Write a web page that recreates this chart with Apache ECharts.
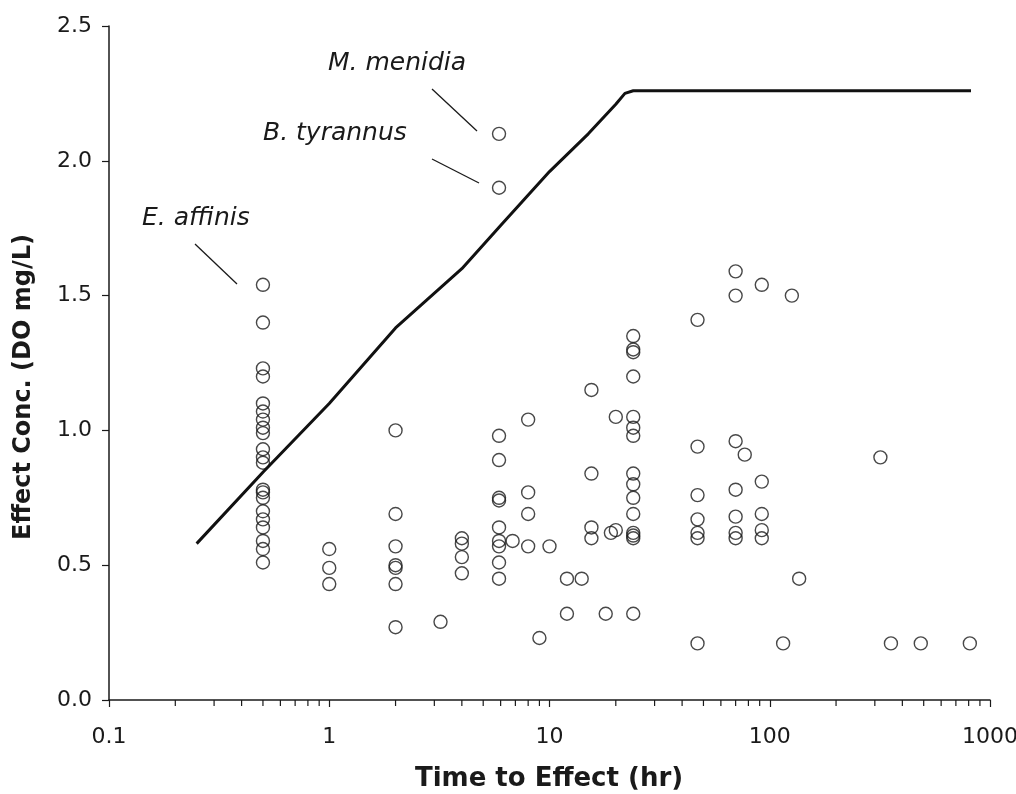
<!DOCTYPE html>
<html>
<head>
<meta charset="utf-8">
<script src="https://cdn.jsdelivr.net/npm/echarts@6/dist/echarts.min.js"></script>
<style>
  html, body { margin: 0; padding: 0; background: #fff; }
  #chart { width: 1016px; height: 794px; }
</style>
</head>
<body>
<div id="chart"></div>
<script>
// observations, grouped by time to effect (hr) -> effect conc. (DO mg/L)
var columnTimes = [0.5, 1, 2, 3.2, 4, 5.9, 6.8, 8, 9, 10, 12, 14, 15.5, 18, 19, 20, 24, 47, 70, 77, 92, 115, 126, 136, 318, 355, 485, 810]
var columnConcs = [
  [1.54, 1.40, 1.23, 1.20, 1.10, 1.07, 1.04, 1.01, 0.99, 0.93, 0.90, 0.88, 0.78, 0.77, 0.75, 0.70, 0.67, 0.64, 0.59, 0.56, 0.51],
  [0.56, 0.49, 0.43],
  [1.00, 0.69, 0.57, 0.50, 0.49, 0.43, 0.27],
  [0.29],
  [0.60, 0.58, 0.53, 0.47],
  [2.10, 1.90, 0.98, 0.89, 0.75, 0.74, 0.64, 0.59, 0.57, 0.51, 0.45],
  [0.59],
  [1.04, 0.77, 0.69, 0.57],
  [0.23],
  [0.57],
  [0.45, 0.32],
  [0.45],
  [1.15, 0.84, 0.64, 0.60],
  [0.32],
  [0.62],
  [1.05, 0.63],
  [1.35, 1.30, 1.29, 1.20, 1.05, 1.01, 0.98, 0.84, 0.80, 0.75, 0.69, 0.62, 0.61, 0.60, 0.32],
  [1.41, 0.94, 0.76, 0.67, 0.62, 0.60, 0.21],
  [1.59, 1.50, 0.96, 0.78, 0.68, 0.62, 0.60],
  [0.91],
  [1.54, 0.81, 0.69, 0.63, 0.60],
  [0.21],
  [1.50],
  [0.45],
  [0.90],
  [0.21],
  [0.21],
  [0.21]
]

// criterion curve
var curveTime = [0.25, 0.5, 1, 2, 4, 6, 10, 15, 20, 22, 24, 820]
var curveConc = [0.58, 0.845, 1.10, 1.38, 1.60, 1.76, 1.96, 2.10, 2.21, 2.25, 2.26, 2.26]

// minor log ticks on the time axis
var minorTicks = [0.2, 0.3, 0.4, 0.5, 0.6, 0.7, 0.8, 0.9, 2, 3, 4, 5, 6, 7, 8, 9,
  20, 30, 40, 50, 60, 70, 80, 90, 200, 300, 400, 500, 600, 700, 800, 900]

var points = []
columnTimes.forEach(function(t, i) {
  columnConcs[i].forEach(function(c) {
    points.push([t, c])
  })
})
var curve = curveTime.map(function(t, i) {
  return [t, curveConc[i]]
})

var ink = '#1a1a1a'
var font = 'DejaVu Sans'

var chart = echarts.init(document.getElementById('chart'))
chart.setOption({
  animation: false,
  backgroundColor: '#fff',
  grid: { left: 109, top: 26, right: 26, bottom: 94, outerBoundsMode: 'none' },
  xAxis: {
    type: 'log',
    logBase: 10,
    min: 0.1,
    max: 1000,
    axisLine: { onZero: false, lineStyle: { color: ink, width: 1.5 } },
    axisTick: { length: 7, lineStyle: { color: ink, width: 1.2 } },
    axisLabel: {
      margin: 26,
      color: ink,
      fontFamily: font,
      fontSize: 22,
      formatter: function(v) {
        return v < 1 ? v.toFixed(1) : String(Math.round(v))
      }
    },
    splitLine: { show: false }
  },
  yAxis: {
    type: 'value',
    min: 0,
    max: 2.5,
    interval: 0.5,
    axisLine: { show: true, lineStyle: { color: ink, width: 1.5 } },
    axisTick: { show: true, length: 7, lineStyle: { color: ink, width: 1.2 } },
    axisLabel: {
      margin: 17,
      color: ink,
      fontFamily: font,
      fontSize: 22,
      formatter: function(v) { return v.toFixed(1) }
    },
    splitLine: { show: false }
  },
  graphic: [
    { type: 'text', x: 549, y: 766,
      style: { text: 'Time to Effect (hr)', fill: ink, font: 'bold 26px "DejaVu Sans"', align: 'center', verticalAlign: 'top' } },
    { type: 'text', x: 12, y: 387, rotation: Math.PI / 2,
      style: { text: 'Effect Conc. (DO mg/L)', fill: ink, font: 'bold 24px "DejaVu Sans"', align: 'center', verticalAlign: 'top' } },
    // species labels
    { type: 'text', x: 328, y: 63,
      style: { text: 'M. menidia', fill: ink, font: 'italic 25px "DejaVu Sans"', verticalAlign: 'middle' } },
    { type: 'text', x: 263, y: 133,
      style: { text: 'B. tyrannus', fill: ink, font: 'italic 25px "DejaVu Sans"', verticalAlign: 'middle' } },
    { type: 'text', x: 142, y: 218,
      style: { text: 'E. affinis', fill: ink, font: 'italic 25px "DejaVu Sans"', verticalAlign: 'middle' } },
    { type: 'line', shape: { x1: 432, y1: 89, x2: 477, y2: 131 }, style: { stroke: ink, lineWidth: 1.3 } },
    { type: 'line', shape: { x1: 432, y1: 159, x2: 479, y2: 183 }, style: { stroke: ink, lineWidth: 1.3 } },
    { type: 'line', shape: { x1: 195, y1: 244, x2: 237, y2: 284 }, style: { stroke: ink, lineWidth: 1.3 } }
  ],
  series: [
    {
      type: 'scatter',
      data: points,
      symbol: 'circle',
      symbolSize: 13,
      itemStyle: { color: 'rgba(0,0,0,0)', borderColor: ink, borderWidth: 1.4 },
      z: 2
    },
    {
      type: 'line',
      data: curve,
      symbol: 'none',
      lineStyle: { color: '#111', width: 3 },
      z: 3
    },
    {
      type: 'custom',
      data: minorTicks.map(function(v) { return [v, 0] }),
      silent: true,
      renderItem: function(params, api) {
        var p = api.coord([api.value(0), 0])
        return {
          type: 'line',
          shape: { x1: p[0], y1: p[1], x2: p[0], y2: p[1] + 6 },
          style: { stroke: ink, lineWidth: 1.2 }
        }
      }
    }
  ]
})
</script>
</body>
</html>
